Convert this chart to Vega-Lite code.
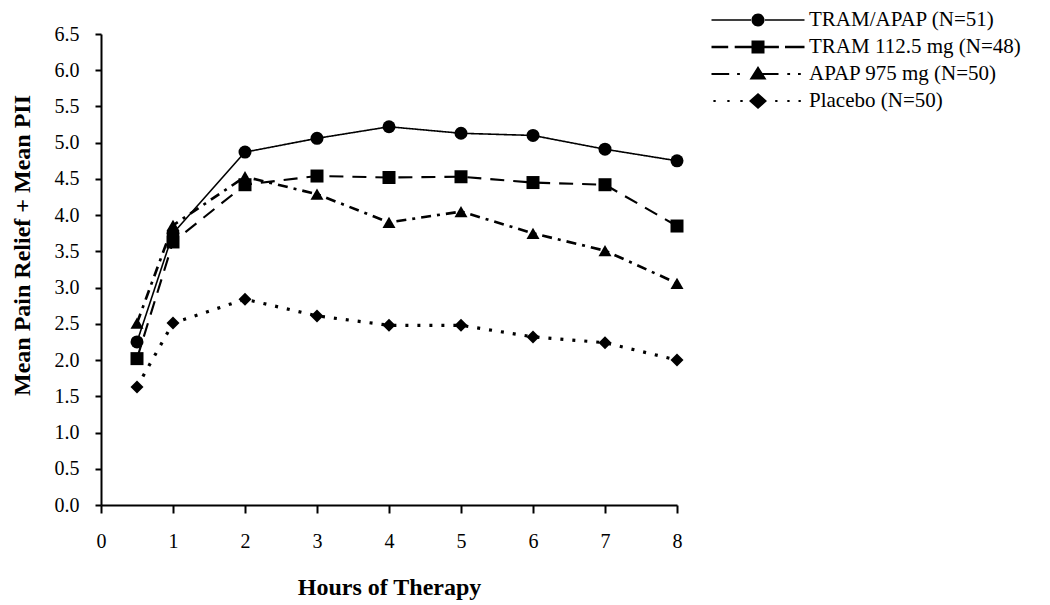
{
  "$schema": "https://vega.github.io/schema/vega-lite/v6.json",
  "autosize": "none",
  "width": 576,
  "height": 471,
  "padding": {"left": 101, "top": 34, "right": 373, "bottom": 100},
  "background": "white",
  "config": {
    "view": {"stroke": null},
    "font": "Liberation Serif",
    "axis": {"grid": false, "domainColor": "black", "tickColor": "black", "labelColor": "black", "titleColor": "black", "labelFont": "Liberation Serif", "titleFont": "Liberation Serif"}
  },
  "data": {
    "values": [
      {"hour": 0.5, "value": 2.25, "series": "TRAM/APAP (N=51)"},
      {"hour": 1, "value": 3.75, "series": "TRAM/APAP (N=51)"},
      {"hour": 2, "value": 4.87, "series": "TRAM/APAP (N=51)"},
      {"hour": 3, "value": 5.06, "series": "TRAM/APAP (N=51)"},
      {"hour": 4, "value": 5.22, "series": "TRAM/APAP (N=51)"},
      {"hour": 5, "value": 5.13, "series": "TRAM/APAP (N=51)"},
      {"hour": 6, "value": 5.10, "series": "TRAM/APAP (N=51)"},
      {"hour": 7, "value": 4.91, "series": "TRAM/APAP (N=51)"},
      {"hour": 8, "value": 4.75, "series": "TRAM/APAP (N=51)"},
      {"hour": 0.5, "value": 2.02, "series": "TRAM 112.5 mg (N=48)"},
      {"hour": 1, "value": 3.63, "series": "TRAM 112.5 mg (N=48)"},
      {"hour": 2, "value": 4.42, "series": "TRAM 112.5 mg (N=48)"},
      {"hour": 3, "value": 4.54, "series": "TRAM 112.5 mg (N=48)"},
      {"hour": 4, "value": 4.52, "series": "TRAM 112.5 mg (N=48)"},
      {"hour": 5, "value": 4.53, "series": "TRAM 112.5 mg (N=48)"},
      {"hour": 6, "value": 4.45, "series": "TRAM 112.5 mg (N=48)"},
      {"hour": 7, "value": 4.42, "series": "TRAM 112.5 mg (N=48)"},
      {"hour": 8, "value": 3.85, "series": "TRAM 112.5 mg (N=48)"},
      {"hour": 0.5, "value": 2.51, "series": "APAP 975 mg (N=50)"},
      {"hour": 1, "value": 3.86, "series": "APAP 975 mg (N=50)"},
      {"hour": 2, "value": 4.53, "series": "APAP 975 mg (N=50)"},
      {"hour": 3, "value": 4.29, "series": "APAP 975 mg (N=50)"},
      {"hour": 4, "value": 3.90, "series": "APAP 975 mg (N=50)"},
      {"hour": 5, "value": 4.05, "series": "APAP 975 mg (N=50)"},
      {"hour": 6, "value": 3.75, "series": "APAP 975 mg (N=50)"},
      {"hour": 7, "value": 3.51, "series": "APAP 975 mg (N=50)"},
      {"hour": 8, "value": 3.06, "series": "APAP 975 mg (N=50)"},
      {"hour": 0.5, "value": 1.63, "series": "Placebo (N=50)"},
      {"hour": 1, "value": 2.51, "series": "Placebo (N=50)"},
      {"hour": 2, "value": 2.84, "series": "Placebo (N=50)"},
      {"hour": 3, "value": 2.61, "series": "Placebo (N=50)"},
      {"hour": 4, "value": 2.48, "series": "Placebo (N=50)"},
      {"hour": 5, "value": 2.48, "series": "Placebo (N=50)"},
      {"hour": 6, "value": 2.32, "series": "Placebo (N=50)"},
      {"hour": 7, "value": 2.24, "series": "Placebo (N=50)"},
      {"hour": 8, "value": 2.00, "series": "Placebo (N=50)"}
    ]
  },
  "encoding": {
    "x": {
      "field": "hour", "type": "quantitative",
      "scale": {"domain": [0, 8], "nice": false, "zero": false},
      "axis": {
        "title": "Hours of Therapy", "values": [0,1,2,3,4,5,6,7,8], "format": "d",
        "labelFontSize": 20, "titleFontSize": 24, "titleFontWeight": "bold",
        "tickSize": 8, "tickWidth": 2, "domainWidth": 2, "labelPadding": 18, "titlePadding": 24,
        "labelFlush": false
      }
    },
    "y": {
      "field": "value", "type": "quantitative",
      "scale": {"domain": [0, 6.5], "nice": false},
      "axis": {
        "title": "Mean Pain Relief + Mean PII", "values": [0,0.5,1,1.5,2,2.5,3,3.5,4,4.5,5,5.5,6,6.5], "format": ".1f",
        "labelFontSize": 20, "titleFontSize": 24, "titleFontWeight": "bold",
        "tickSize": 6, "tickWidth": 2, "domainWidth": 2, "labelPadding": 16, "titlePadding": 20,
        "titleY": 211, "labelFlush": false
      }
    }
  },
  "layer": [
    {
      "mark": {"type": "line", "color": "black"},
      "encoding": {
        "detail": {"field": "series"},
        "strokeDash": {
          "field": "series", "type": "nominal",
          "scale": {"domain": ["TRAM/APAP (N=51)", "TRAM 112.5 mg (N=48)", "APAP 975 mg (N=50)", "Placebo (N=50)"],
                    "range": [[1, 0], [14, 9], [10, 6, 3, 6], [3, 9]]},
          "legend": null
        },
        "strokeWidth": {
          "field": "series", "type": "nominal",
          "scale": {"domain": ["TRAM/APAP (N=51)", "TRAM 112.5 mg (N=48)", "APAP 975 mg (N=50)", "Placebo (N=50)"],
                    "range": [1.6, 3.2, 2.5, 3]},
          "legend": null
        }
      }
    },
    {
      "mark": {"type": "point", "filled": true, "color": "black", "opacity": 1},
      "encoding": {
        "shape": {
          "field": "series", "type": "nominal",
          "scale": {"domain": ["TRAM/APAP (N=51)", "TRAM 112.5 mg (N=48)", "APAP 975 mg (N=50)", "Placebo (N=50)"],
                    "range": ["circle", "square", "triangle-up", "diamond"]},
          "legend": null
        },
        "size": {
          "field": "series", "type": "nominal",
          "scale": {"domain": ["TRAM/APAP (N=51)", "TRAM 112.5 mg (N=48)", "APAP 975 mg (N=50)", "Placebo (N=50)"],
                    "range": [169, 169, 190, 200]},
          "legend": null
        }
      }
    },
    {
      "transform": [{"filter": "datum.hour < 0"}],
      "mark": {"type": "point", "filled": true, "fill": "black", "opacity": 1, "size": 400},
      "encoding": {
        "shape": {
          "field": "series", "type": "nominal",
          "scale": {"domain": ["TRAM/APAP (N=51)", "TRAM 112.5 mg (N=48)", "APAP 975 mg (N=50)", "Placebo (N=50)"],
                    "range": [
                      "M-4.65,-0.08L-0.6,-0.08L-0.6,0.08L-4.65,0.08ZM0.6,-0.08L4.65,-0.08L4.65,0.08L0.6,0.08ZM-0.65,0A0.65,0.65,0,1,0,0.65,0A0.65,0.65,0,1,0,-0.65,0Z",
                      "M-4.65,-0.12L-2.98,-0.12L-2.98,0.12L-4.65,0.12ZM-2.33,-0.12L-0.65,-0.12L-0.65,0.12L-2.33,0.12ZM0.65,-0.12L2.09,-0.12L2.09,0.12L0.65,0.12ZM2.7,-0.12L4.65,-0.12L4.65,0.12L2.7,0.12ZM-0.65,-0.65L0.65,-0.65L0.65,0.65L-0.65,0.65Z",
                      "M-4.65,-0.1L-2.88,-0.1L-2.88,0.1L-4.65,0.1ZM-2.09,-0.1L-1.81,-0.1L-1.81,0.1L-2.09,0.1ZM0.45,-0.1L2.05,-0.1L2.05,0.1L0.45,0.1ZM2.93,-0.1L3.21,-0.1L3.21,0.1L2.93,0.1ZM4.0,-0.1L4.28,-0.1L4.28,0.1L4.0,0.1ZM0,-0.8L0.85,0.55L-0.85,0.55Z",
                      "M-4.46,-0.1L-4.23,-0.1L-4.23,0.1L-4.46,0.1ZM-3.07,-0.1L-2.84,-0.1L-2.84,0.1L-3.07,0.1ZM-1.77,-0.1L-1.53,-0.1L-1.53,0.1L-1.77,0.1ZM1.72,-0.1L1.95,-0.1L1.95,0.1L1.72,0.1ZM2.93,-0.1L3.16,-0.1L3.16,0.1L2.93,0.1ZM4.05,-0.1L4.28,-0.1L4.28,0.1L4.05,0.1ZM0,-0.8L0.9,0L0,0.8L-0.9,0Z"
                    ]},
          "legend": {
            "title": null, "orient": "none", "legendX": 646, "legendY": -25, "padding": 0,
            "labelFont": "Liberation Serif", "labelFontSize": 21, "labelColor": "black", "labelOffset": 40, "labelLimit": 0,
            "symbolSize": 400, "symbolFillColor": "black", "symbolOpacity": 1, "rowPadding": 6
          }
        }
      }
    }
  ],
  "resolve": {"scale": {"shape": "independent"}, "legend": {"shape": "independent"}}
}
